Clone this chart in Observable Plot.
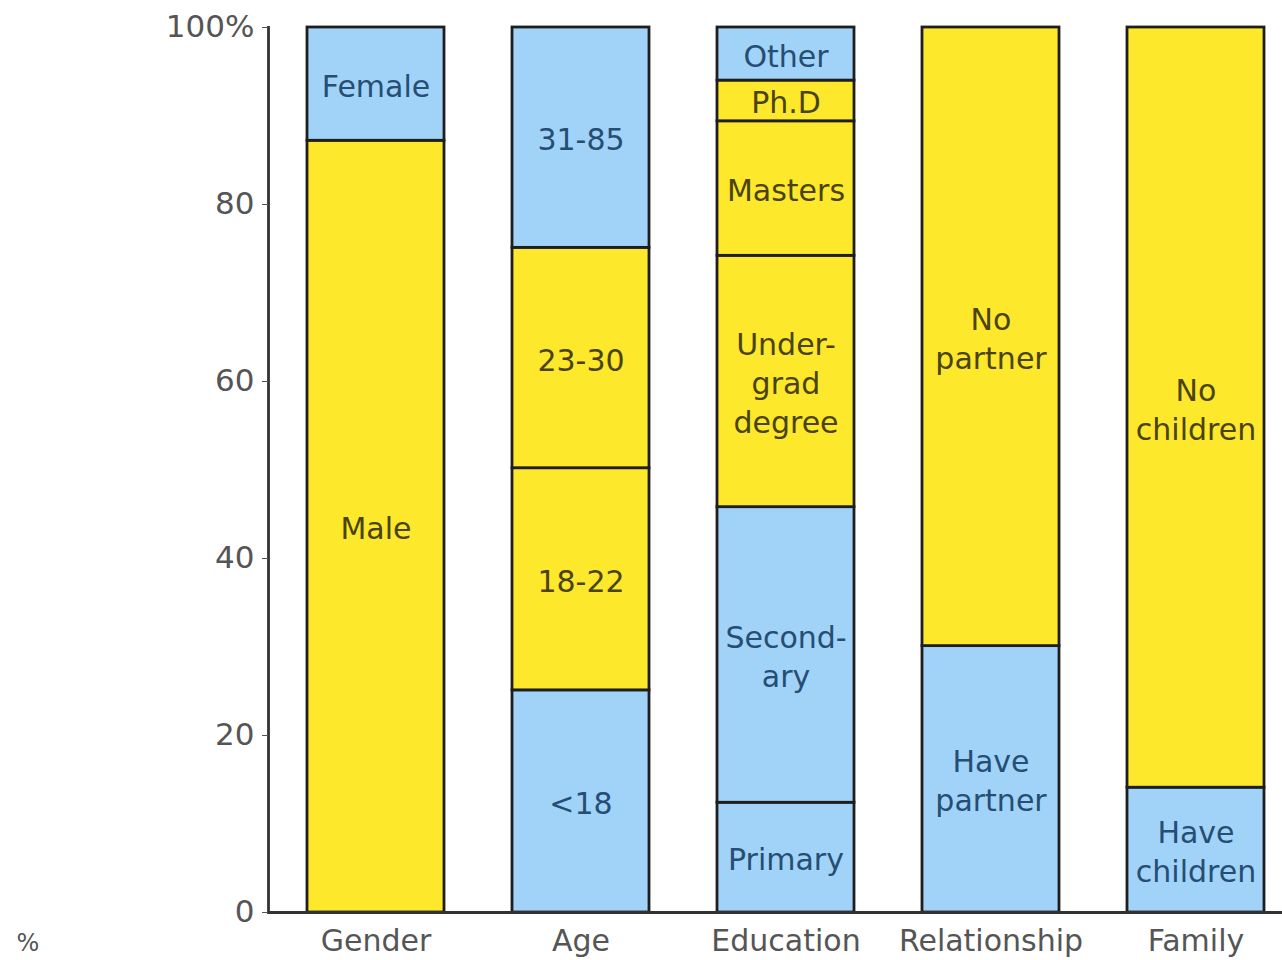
<!DOCTYPE html>
<html>
<head>
<meta charset="utf-8">
<script src="https://cdn.jsdelivr.net/npm/d3@7"></script>
<script src="https://cdn.jsdelivr.net/npm/@observablehq/plot@0.6"></script>
<style>
  html, body { margin: 0; padding: 0; background: #fff; overflow: hidden; }
  #chart svg { overflow: hidden; display: block; }
</style>
</head>
<body>
<div id="chart"></div>
<script>
// Categories (x axis)
const groups = ["Gender", "Age", "Education", "Relationship", "Family"];

// Segments, stacked bottom to top within each group
const segGroup = ["Gender", "Gender",
  "Age", "Age", "Age", "Age",
  "Education", "Education", "Education", "Education", "Education", "Education",
  "Relationship", "Relationship",
  "Family", "Family"];
const segLabel = ["Male", "Female",
  "<18", "18-22", "23-30", "31-85",
  "Primary", "Second-\nary", "Under-\ngrad\ndegree", "Masters", "Ph.D", "Other",
  "Have\npartner", "No\npartner",
  "Have\nchildren", "No\nchildren"];
const segValue = [87.2, 12.8,
  25.1, 25.1, 24.9, 24.9,
  12.4, 33.4, 28.4, 15.2, 4.6, 6.0,
  30.1, 69.9,
  14.1, 85.9];
const segTone = ["yellow", "blue",
  "blue", "yellow", "yellow", "blue",
  "blue", "blue", "yellow", "yellow", "yellow", "blue",
  "blue", "yellow",
  "blue", "yellow"];

const yTicks = [0, 20, 40, 60, 80, 100];

const fillColor = {blue: "#a1d3f8", yellow: "#fee82b"};
const textColor = {blue: "#264d73", yellow: "#4a4310"};

const data = segGroup.map((g, i) => ({
  group: g, label: segLabel[i], value: segValue[i], tone: segTone[i]
}));

const font = "'DejaVu Sans', Verdana, sans-serif";

const chart = Plot.plot({
  width: 1282,
  height: 960,
  marginTop: 27,
  marginBottom: 48,
  marginLeft: 268,
  marginRight: -21,
  style: {fontFamily: font, background: "#fff"},
  x: {domain: groups, paddingInner: 0.332, paddingOuter: 0.19, label: null},
  y: {domain: [0, 100], label: null},
  marks: [
    Plot.barY(data, {
      x: "group", y: "value",
      fill: d => fillColor[d.tone],
      stroke: "#1e1e1e", strokeWidth: 2.8
    }),
    Plot.text(data, Plot.stackY({
      x: "group", y: "value", text: "label",
      fill: d => textColor[d.tone],
      fontSize: 30, lineHeight: 1.3
    })),
    Plot.ruleY([0], {stroke: "#333", strokeWidth: 2.8}),
    Plot.frame({anchor: "left", stroke: "#333", strokeWidth: 2.8}),
    Plot.axisY({
      ticks: yTicks, tickSize: 6, tickPadding: 8,
      tickFormat: d => d === 100 ? "100%" : String(d),
      fontSize: 31, color: "#555", label: null
    }),
    Plot.axisX({tickSize: 0, tickPadding: 17, fontSize: 30, color: "#555", label: null}),
    Plot.text(["%"], {
      frameAnchor: "bottom-left", text: d => d,
      dx: -252, dy: 38, fontSize: 24, fill: "#555"
    })
  ]
});

document.getElementById("chart").appendChild(chart);
</script>
</body>
</html>
